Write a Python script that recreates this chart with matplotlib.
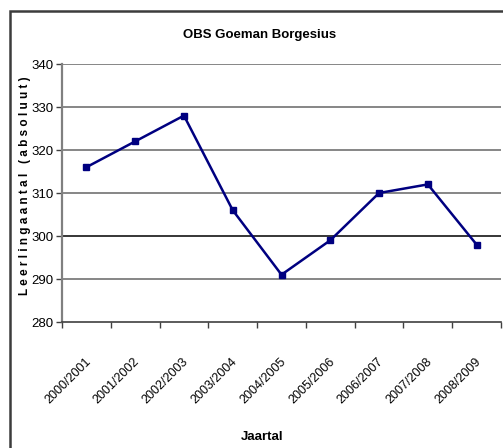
import matplotlib
matplotlib.use("Agg")
import matplotlib.pyplot as plt
from matplotlib.patches import Rectangle

categories = ["2000/2001", "2001/2002", "2002/2003", "2003/2004", "2004/2005",
              "2005/2006", "2006/2007", "2007/2008", "2008/2009"]
values = [316, 322, 328, 306, 291, 299, 310, 312, 298]
yticks = [280, 290, 300, 310, 320, 330, 340]

W, H = 503, 448
fig = plt.figure(figsize=(W / 100, H / 100), dpi=100)
plt.rcParams['font.family'] = ['Liberation Sans', 'DejaVu Sans']

# outer chart frame (extends past right/bottom edges)
fig.patches.append(Rectangle((10 / W, -0.1), 1.2, 1 - 11 / H + 0.1,
                             transform=fig.transFigure, fill=False,
                             edgecolor='#3c3c3c', linewidth=1.8))

ax = fig.add_axes([62 / W, 1 - 322 / H, (501 - 62) / W, (322 - 64) / H])
x = list(range(len(categories)))
ax.plot(x, values, color='#000080', linewidth=1.8, marker='s', markersize=5,
        markerfacecolor='#000080', markeredgecolor='#000080', zorder=3)

ax.set_xlim(-0.5, len(categories) - 0.5)
ax.set_ylim(280, 340)
ax.set_yticks(yticks)
ax.set_yticklabels([str(v) for v in yticks], fontsize=9.5)

for v in yticks[1:]:
    ax.axhline(v, color='#000000' if v == 300 else '#666666', linewidth=1.1, zorder=1)

for s in ['top', 'right']:
    ax.spines[s].set_visible(False)
ax.spines['left'].set_color('#808080')
ax.spines['left'].set_linewidth(1.6)
ax.spines['bottom'].set_color('#404040')
ax.spines['bottom'].set_linewidth(1.2)

ax.tick_params(axis='y', length=4, width=1, color='#404040', pad=2)
ax.set_xticks([i + 0.5 for i in range(-1, len(categories))], minor=False)
ax.set_xticklabels([])
ax.tick_params(axis='x', length=4, width=1, color='#404040', direction='out')

for i, c in enumerate(categories):
    ax.text(i + 0.05, 271.3, c, rotation=45, ha='right', va='center',
            rotation_mode='anchor', fontsize=9, transform=ax.transData,
            clip_on=False)

fig.text(260 / W, 1 - 35 / H, "OBS Goeman Borgesius", ha='center', va='center',
         fontsize=9.5, fontweight='bold')
fig.text(262 / W, 1 - 437 / H, "Jaartal", ha='center', va='center',
         fontsize=9.5, fontweight='bold')
fig.text(25 / W, 1 - 186 / H, "L e e r l i n g a a n t a l   ( a b s o l u u t )",
         ha='center', va='center', rotation=90, fontsize=8.5, fontweight='bold')

fig.savefig("out.png", dpi=100)
